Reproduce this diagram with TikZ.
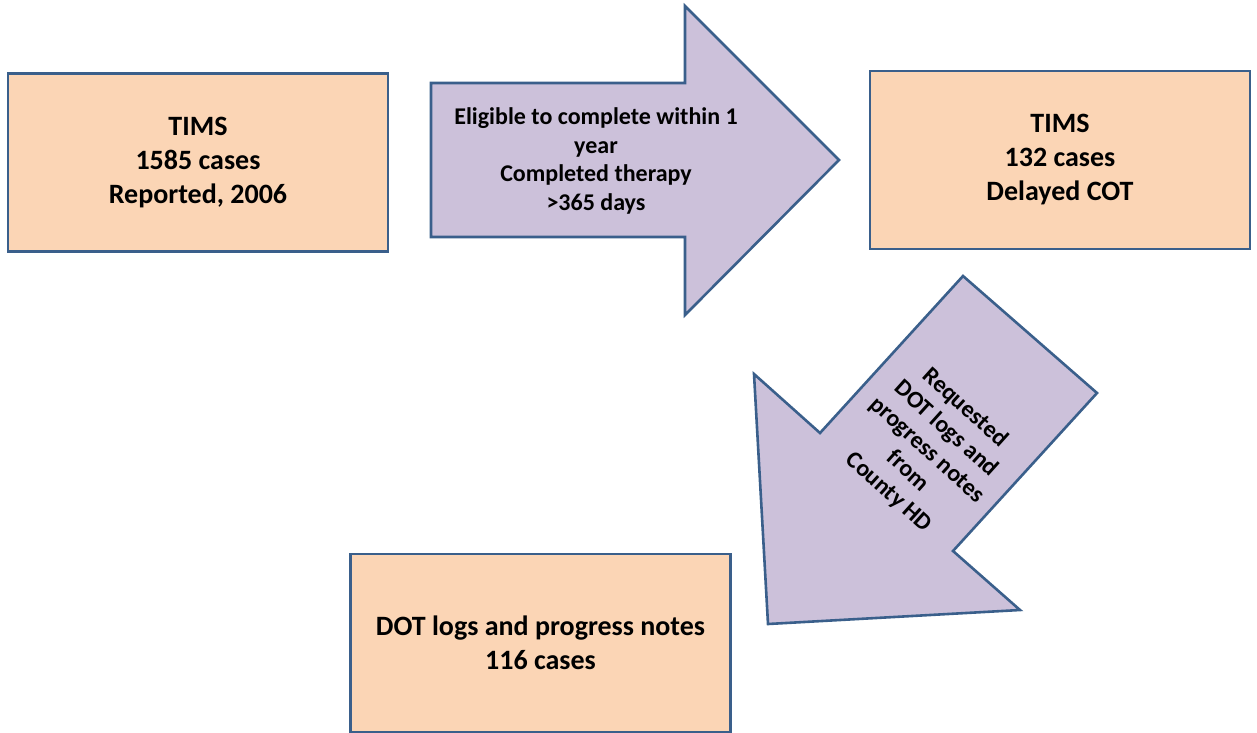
\documentclass[tikz,border=0pt]{standalone}
\usepackage{fontspec}
\setmainfont{Carlito}
\definecolor{peach}{HTML}{FBD5B5}
\definecolor{edge}{HTML}{3A5F8B}
\definecolor{lav}{HTML}{CCC1DA}
\begin{document}
\begin{tikzpicture}[x=1pt,y=-1pt,
  box/.style={draw=edge,fill=peach,line width=2.6pt,minimum width=380pt,minimum height=178pt,
    align=center,font=\fontsize{28}{34}\selectfont\bfseries,inner sep=0pt},
  blockarrow/.style={draw=edge,fill=lav,line width=2.6pt,line join=miter},
  arrowtext/.style={align=center,font=\fontsize{24}{28.5}\selectfont\bfseries,inner sep=0pt}]
\useasboundingbox (0,0) rectangle (1257,732);
% boxes
\node[box] (b1) at (198,162.5) {TIMS\\1585 cases\\Reported, 2006};
\node[box] (b2) at (1060,160) {TIMS\\132 cases\\Delayed COT};
\node[box] (b3) at (540.5,643) {DOT logs and progress notes\\116 cases};
% right arrow
\coordinate (r1) at (431,83);
\coordinate (r2) at (685,83);
\coordinate (r3) at (685,6);
\coordinate (r4) at (839,160);
\coordinate (r5) at (685,315);
\coordinate (r6) at (685,237);
\coordinate (r7) at (431,237);
\draw[blockarrow] (r1) -- (r2) -- (r3) -- (r4) -- (r5) -- (r6) -- (r7) -- cycle;
\node[arrowtext] (t1) at (596,161) {Eligible to complete within 1\\year\\Completed therapy\\>365 days};
% diagonal arrow
\coordinate (d1) at (963,276);
\coordinate (d2) at (1097,393);
\coordinate (d3) at (953,551);
\coordinate (d4) at (1020,610);
\coordinate (d5) at (768,624);
\coordinate (d6) at (754,374);
\coordinate (d7) at (820,433);
\draw[blockarrow] (d1) -- (d2) -- (d3) -- (d4) -- (d5) -- (d6) -- (d7) -- cycle;
\node[arrowtext,rotate=-42] (t2) at (927,450) {Requested\\DOT logs and\\progress notes\\from\\County HD};
\end{tikzpicture}
\end{document}
